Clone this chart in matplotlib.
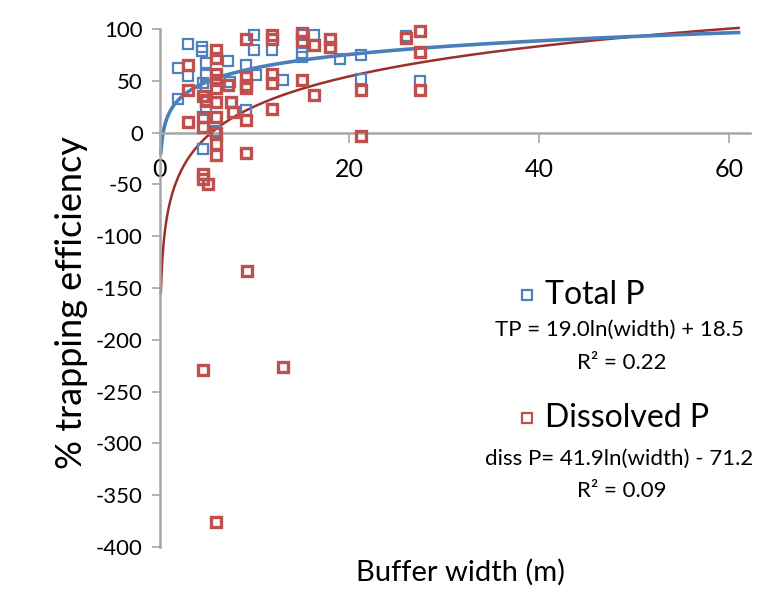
import matplotlib
import numpy as np

matplotlib.use('Agg')
import matplotlib.pyplot as plt

# Total P trapping efficiency (%) vs buffer width (m)
tp_width = [1.9, 1.9, 3.0, 3.0, 4.5, 4.5, 4.9, 4.9, 4.6, 4.9, 4.9, 4.9, 5.8,
            4.6, 7.2, 7.4, 9.1, 9.1, 10.0, 10.0, 10.2, 11.9, 13.0, 15.0,
            15.0, 15.0, 16.3, 19.0, 21.2, 21.2, 26.0, 27.4]
tp_eff = [62, 32, 86, 55, 83, 79, 67, 56, 48, 44, 30, 22, 2,
          -16, 69, 49, 65, 22, 94, 80, 56, 80, 51, 94,
          77, 73, 94, 71, 75, 52, 93, 50]

# Dissolved P trapping efficiency (%) vs buffer width (m)
dp_width = [3.0, 3.0, 3.0, 6.0, 6.0, 6.0, 6.0, 4.6, 4.9, 6.0, 6.0, 4.6,
            4.6, 6.0, 6.0, 6.0, 6.0, 4.6, 4.6, 5.1, 7.2, 7.5, 7.7, 9.1,
            9.1, 9.1, 9.1, 9.1, 9.1, 11.9, 11.9, 11.9, 11.9, 11.9, 15.0,
            15.0, 15.0, 16.3, 16.3, 18.0, 18.0, 21.2, 21.2, 26.0, 27.4,
            27.4, 27.4, 9.2, 4.6, 13.0, 6.0]
dp_eff = [65, 41, 10, 80, 72, 57, 51, 35, 31, 43, 30, 15,
          5, 15, 0, -11, -22, -40, -45, -50, 46, 30, 20, 90,
          54, 46, 43, 12, -20, 94, 90, 57, 48, 23, 96,
          88, 51, 85, 36, 90, 83, 41, -3, 91, 98,
          78, 41, -134, -229, -226, -376]

# log trendlines  y = a ln(width) + b
tp_fit = (19.0, 18.5)
dp_fit = (41.9, -71.2)
fit_range = (0.135, 61)

y_ticks = [100, 50, 0, -50, -100, -150, -200, -250, -300, -350, -400]
x_ticks = [0, 20, 40, 60]

BLUE = '#4f81bd'
RED = '#c0504d'
BLUE_LINE = '#4a7ebb'
RED_LINE = '#9c2f2b'
GRAY = '#a6a6a6'

W, H = 769, 603
plt.rcParams['font.family'] = ['Lato', 'DejaVu Sans']
plt.rcParams['axes.unicode_minus'] = False

fig = plt.figure(figsize=(W / 100, H / 100), dpi=100)


def px(x, y):
    # pixel position -> figure fraction
    return x / W, 1 - y / H


left, top = px(159.5, 29)
right, bottom = px(750, 547)
ax = fig.add_axes([left, bottom, right - left, top - bottom])

xs = np.linspace(fit_range[0], fit_range[1], 400)
ax.plot(xs, dp_fit[0] * np.log(xs) + dp_fit[1], color=RED_LINE, lw=1.8,
        zorder=2, clip_on=False)
ax.plot(xs, tp_fit[0] * np.log(xs) + tp_fit[1], color=BLUE_LINE, lw=2.6,
        zorder=2, clip_on=False)

ax.plot(tp_width, tp_eff, 's', ms=7.5, mfc='none', mec=BLUE, mew=1.6,
        zorder=3, clip_on=False)
ax.plot(dp_width, dp_eff, 's', ms=7.5, mfc='none', mec=RED, mew=2.4,
        zorder=4, clip_on=False)

ax.set_xlim(0, 62.2)
ax.set_ylim(-400, 100)
ax.set_yticks(y_ticks)
ax.set_xticks(x_ticks)
ax.tick_params(axis='y', labelsize=16, length=6, width=1.2, color=GRAY,
               pad=6)
ax.tick_params(axis='x', labelsize=18, length=7, width=1.2, color=GRAY,
               pad=11)

for side in ['top', 'right']:
    ax.spines[side].set_visible(False)
ax.spines['bottom'].set_position(('data', 0))
for side in ['left', 'bottom']:
    ax.spines[side].set_color(GRAY)
    ax.spines[side].set_linewidth(1.8)

fig.text(*px(72, 303), '% trapping efficiency', rotation=90, fontsize=26,
         ha='center', va='center')
fig.text(*px(460, 572), 'Buffer width (m)', fontsize=21, ha='center',
         va='center')

# legend with the fitted equations
for y, color in [(295, BLUE), (418, RED)]:
    fig.lines.append(matplotlib.lines.Line2D(
        [527 / W], [1 - y / H], marker='s', ms=7, mfc='none', mec=color,
        mew=1.6, transform=fig.transFigure))
fig.text(*px(545, 295), 'Total P', fontsize=23, ha='left', va='center')
fig.text(*px(619, 330), 'TP = 19.0ln(width) + 18.5', fontsize=16,
         ha='center', va='center')
fig.text(*px(622, 363), 'R² = 0.22', fontsize=16, ha='center', va='center')
fig.text(*px(545, 418), 'Dissolved P', fontsize=23, ha='left', va='center')
fig.text(*px(619, 459), 'diss P= 41.9ln(width) - 71.2', fontsize=16,
         ha='center', va='center')
fig.text(*px(622, 491), 'R² = 0.09', fontsize=16, ha='center', va='center')

fig.savefig('out.png', dpi=100)
